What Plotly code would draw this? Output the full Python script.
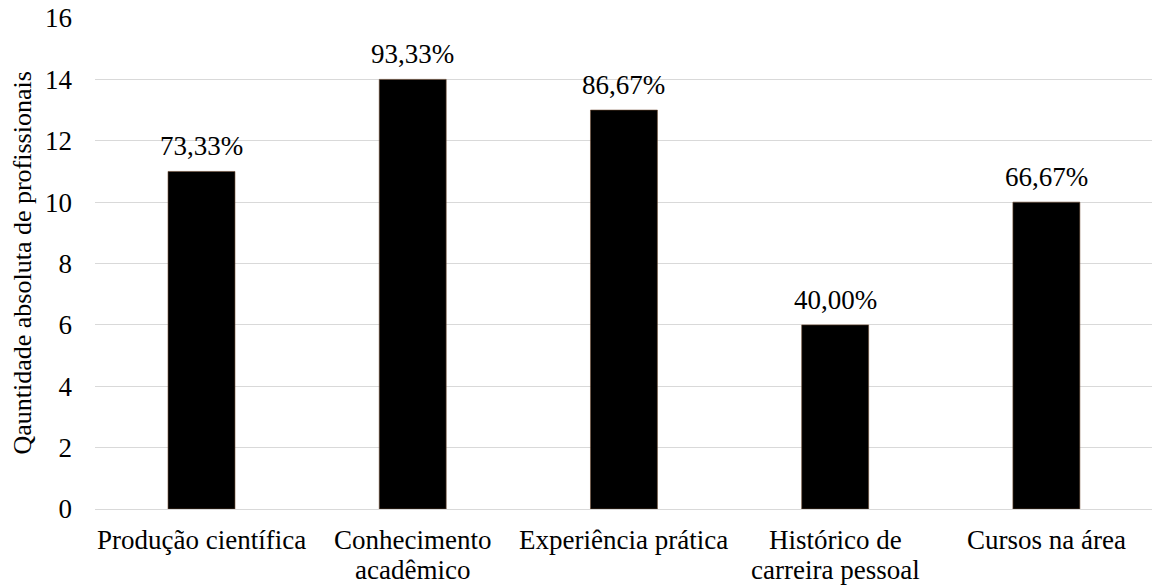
import plotly.graph_objects as go

categorias = ["Produção científica", "Conhecimento<br>acadêmico", "Experiência prática",
              "Histórico de<br>carreira pessoal", "Cursos na área"]
quantidades = [11, 14, 13, 6, 10]
percentuais = ["73,33%", "93,33%", "86,67%", "40,00%", "66,67%"]
y_ticks = [0, 2, 4, 6, 8, 10, 12, 14, 16]

FONT = "Liberation Serif, Times New Roman, serif"
SIZE = 27
LINE_GAP = 30  # espaçamento entre linhas dos rótulos de categoria

fig = go.Figure(
    go.Bar(
        x=categorias,
        y=quantidades,
        marker=dict(color="black", line=dict(color="#6b4a30", width=0.6)),
        width=0.317,
        hoverinfo="skip",
    )
)

# rótulos percentuais acima das barras
for cat, q, p in zip(categorias, quantidades, percentuais):
    fig.add_annotation(
        x=cat, y=q, text=p, showarrow=False,
        yanchor="bottom", yshift=8,
        font=dict(family=FONT, size=SIZE, color="black"),
    )

# rótulos das categorias, linha a linha, com espaçamento compacto
for cat in categorias:
    for i, linha in enumerate(cat.split("<br>")):
        fig.add_annotation(
            x=cat, y=0, text=linha, showarrow=False,
            yanchor="top", yshift=-14 - i * LINE_GAP,
            font=dict(family=FONT, size=SIZE, color="black"),
        )

fig.add_annotation(
    xref="paper", yref="paper", x=-0.069, y=0.5,
    text="Qauntidade absoluta de profissionais", textangle=-90,
    showarrow=False, xanchor="center", yanchor="middle",
    font=dict(family=FONT, size=26, color="black"),
)

fig.update_layout(
    width=1152, height=587,
    margin=dict(l=95, r=0, t=18, b=78),
    paper_bgcolor="white", plot_bgcolor="white",
    font=dict(family=FONT, size=SIZE, color="black"),
    showlegend=False,
    xaxis=dict(showgrid=False, showline=False, ticks="", showticklabels=False),
    yaxis=dict(
        range=[0, 16], tickvals=y_ticks, showgrid=True, gridcolor="#d9d9d9",
        gridwidth=1.3, zeroline=True, zerolinecolor="#d9d9d9", zerolinewidth=1.3,
        showline=False, ticks="", ticklabelstandoff=22, tickfont=dict(size=SIZE),
    ),
)

fig.write_html("out.html")
